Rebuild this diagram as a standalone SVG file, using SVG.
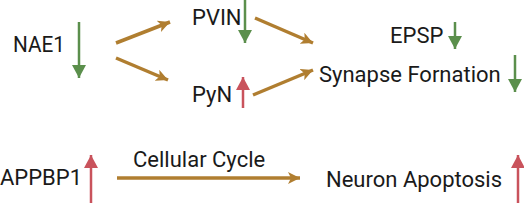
<svg xmlns="http://www.w3.org/2000/svg" width="524" height="203" viewBox="0 0 524 203">
<defs>
<style>
text{font-family:Roboto,"Liberation Sans",sans-serif;font-size:22px;fill:#1a1a1a}
.o{stroke:#b07e30;stroke-width:3.5;fill:none;marker-end:url(#ho)}
.g{stroke:#5b8f4c;stroke-width:2.5;fill:none;marker-end:url(#hg)}
.r{stroke:#c9535c;stroke-width:2.5;fill:none;marker-end:url(#hr)}
</style>
<marker id="ho" markerUnits="userSpaceOnUse" markerWidth="14" markerHeight="12" refX="12" refY="6" orient="auto"><path d="M0,0 L12,6 L0,12 L3,6 Z" fill="#b07e30"/></marker>
<marker id="hg" markerUnits="userSpaceOnUse" markerWidth="14" markerHeight="14" refX="13" refY="7" orient="auto"><path d="M0,0 L13,7 L0,14 Z" fill="#5b8f4c"/></marker>
<marker id="hr" markerUnits="userSpaceOnUse" markerWidth="14" markerHeight="14" refX="13" refY="7" orient="auto"><path d="M0,0 L13,7 L0,14 Z" fill="#c9535c"/></marker>
</defs>
<g id="connectors">
<line class="o" x1="116" y1="43" x2="170" y2="22"/>
<line class="o" x1="116" y1="58" x2="168" y2="80"/>
<line class="o" x1="255" y1="18" x2="313" y2="43"/>
<line class="o" x1="253" y1="95" x2="313" y2="70"/>
<line class="o" x1="117" y1="178" x2="300" y2="178"/>
</g>
<g id="NAE1"><text x="13" y="52" textLength="52" lengthAdjust="spacingAndGlyphs">NAE1</text><line class="g" x1="79" y1="22" x2="79" y2="78"/></g>
<g id="PVIN"><text x="192" y="25">PVIN</text><line class="g" x1="245" y1="0" x2="245" y2="43"/></g>
<g id="PyN"><text x="192" y="102">PyN</text><line class="r" x1="243" y1="108" x2="243" y2="77"/></g>
<g id="EPSP"><text x="390" y="43">EPSP</text><line class="g" x1="455" y1="22" x2="455" y2="49"/></g>
<g id="SynapseFormation"><text x="319" y="82">Synapse Fornation</text><line class="g" x1="515" y1="55" x2="515" y2="92"/></g>
<g id="APPBP1"><text x="0" y="185">APPBP1</text><line class="r" x1="91" y1="203" x2="91" y2="155"/></g>
<g id="CellularCycle"><text x="133" y="167">Cellular Cycle</text></g>
<g id="NeuronApoptosis"><text x="326" y="187">Neuron Apoptosis</text><line class="r" x1="518" y1="203" x2="518" y2="155"/></g>
</svg>
